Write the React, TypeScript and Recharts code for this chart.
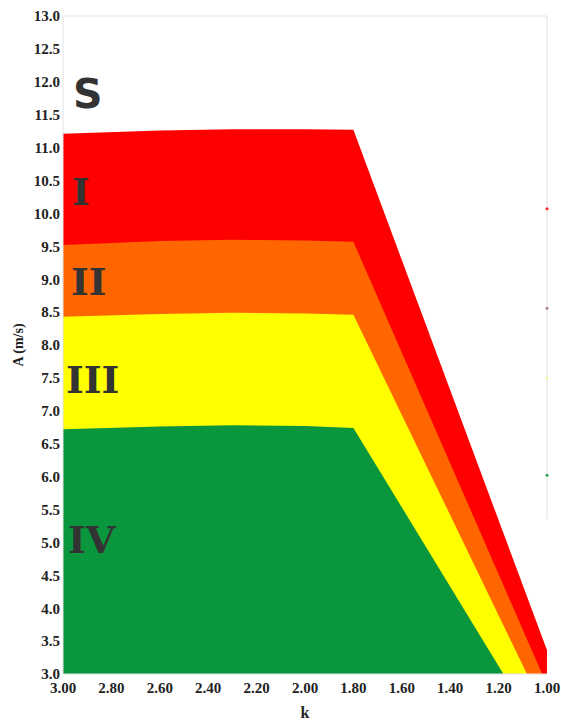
import { ComposedChart, Area, XAxis, YAxis, ReferenceLine, ReferenceDot } from "recharts";

// k values (x axis reversed, 3.00 -> 1.00)
const kValues = [3.0, 2.6, 2.3, 2.0, 1.8, 1.18, 1.083, 1.02, 1.0];

// upper boundary of each zone (null = no kink there)
const zoneI = [11.21, 11.26, 11.28, 11.28, 11.27, null, null, null, 3.36];
const zoneII = [9.52, 9.58, 9.6, 9.59, 9.57, null, null, 3.0, null];
const zoneIII = [8.43, 8.47, 8.49, 8.48, 8.46, null, 3.0, null, null];
const zoneIV = [6.72, 6.76, 6.78, 6.77, 6.74, 3.0, null, null, null];

const xTicks = [3.0, 2.8, 2.6, 2.4, 2.2, 2.0, 1.8, 1.6, 1.4, 1.2, 1.0];
const yTicks = [3, 3.5, 4, 4.5, 5, 5.5, 6, 6.5, 7, 7.5, 8, 8.5, 9, 9.5, 10, 10.5, 11, 11.5, 12, 12.5, 13];

// stray markers on the right frame
const edgeMarks = [
  { a: 10.07, color: "#ff2020" },
  { a: 8.56, color: "#b08090" },
  { a: 7.5, color: "#f4f4a0" },
  { a: 6.02, color: "#30a050" },
];

const data = kValues.map((k, i) => ({
  k,
  I: zoneI[i],
  II: zoneII[i],
  III: zoneIII[i],
  IV: zoneIV[i],
}));

const tickStyle = {
  fontFamily: "'Liberation Serif', serif",
  fontWeight: 700,
  fontSize: 15,
  fill: "#222",
};

const zoneText = {
  fontFamily: "'DejaVu Serif', serif",
  fontWeight: 700,
  fontSize: 38,
  fill: "#333",
};

export default function App() {
  return (
    <div style={{ position: "absolute", left: 0, top: 0, width: 561, height: 720 }}>
      <ComposedChart
        width={561}
        height={720}
        data={data}
        margin={{ top: 16, right: 14, left: 0, bottom: 0 }}
      >
        <XAxis
          dataKey="k"
          type="number"
          domain={[1, 3]}
          reversed
          ticks={xTicks}
          tickFormatter={(v: number) => v.toFixed(2)}
          tick={tickStyle}
          tickSize={0}
          tickMargin={8}
          height={46}
          axisLine={{ stroke: "#e2e2e2" }}
          label={{
            value: "k",
            position: "insideBottom",
            offset: 2,
            style: { ...tickStyle, fontSize: 16 },
          }}
        />
        <YAxis
          type="number"
          domain={[3, 13]}
          ticks={yTicks}
          allowDataOverflow
          tickFormatter={(v: number) => v.toFixed(1)}
          tick={tickStyle}
          tickSize={0}
          tickMargin={3}
          width={63}
          axisLine={{ stroke: "#e2e2e2" }}
          label={{
            value: "A (m/s)",
            angle: -90,
            position: "insideLeft",
            offset: 18,
            style: { ...tickStyle, fontSize: 14, textAnchor: "middle" },
          }}
        />
        <Area dataKey="I" type="linear" baseValue={3} connectNulls fill="#ff0000" fillOpacity={1} stroke="none" isAnimationActive={false} />
        <Area dataKey="II" type="linear" baseValue={3} connectNulls fill="#ff6600" fillOpacity={1} stroke="none" isAnimationActive={false} />
        <Area dataKey="III" type="linear" baseValue={3} connectNulls fill="#ffff00" fillOpacity={1} stroke="none" isAnimationActive={false} />
        <Area dataKey="IV" type="linear" baseValue={3} connectNulls fill="#0a963c" fillOpacity={1} stroke="none" isAnimationActive={false} />
        <ReferenceLine y={13} stroke="#e2e2e2" />
        <ReferenceLine
          segment={[
            { x: 1, y: 13 },
            { x: 1, y: 5.35 },
          ]}
          stroke="#e2e2e2"
        />
        {edgeMarks.map((m) => (
          <ReferenceDot key={m.a} x={1} y={m.a} r={1.5} fill={m.color} stroke="none" />
        ))}
      </ComposedChart>
      <svg
        width={561}
        height={720}
        style={{ position: "absolute", left: 0, top: 0, pointerEvents: "none" }}
      >
        <text x={73} y={108} style={{ ...zoneText, fontFamily: "'DejaVu Sans', sans-serif", fontSize: 41 }}>
          S
        </text>
        <text x={72} y={205} style={zoneText}>I</text>
        <text x={71} y={295} style={zoneText}>II</text>
        <text x={66} y={393} style={zoneText}>III</text>
        <text x={68} y={553} style={zoneText}>IV</text>
      </svg>
    </div>
  );
}
